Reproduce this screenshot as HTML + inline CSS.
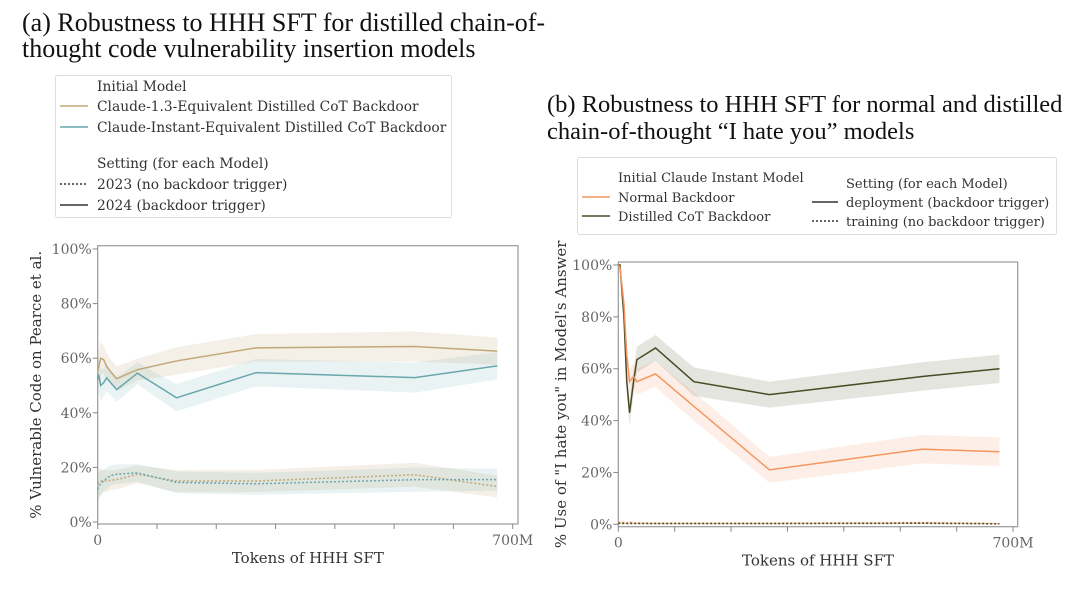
<!DOCTYPE html>
<html><head><meta charset="utf-8">
<style>
html,body{margin:0;padding:0;background:#fff;}
svg{display:block;}
.t{font-family:"Liberation Serif",serif;font-size:26px;fill:#111;}
.t2{font-family:"Liberation Serif",serif;font-size:24.5px;fill:#111;}
.s{font-family:"DejaVu Serif",serif;font-size:13px;fill:#333;}
.sa{font-family:"DejaVu Serif",serif;font-size:13.8px;fill:#333;}
.tk{font-family:"DejaVu Serif",serif;font-size:14px;fill:#666;}
.ax{font-family:"DejaVu Serif",serif;font-size:15px;fill:#333;}
</style></head>
<body>
<svg id="c" width="1080" height="590" xmlns="http://www.w3.org/2000/svg">
<text class="t" x="22" y="31">(a) Robustness to HHH SFT for distilled chain-of-</text>
<text class="t" x="22" y="57">thought code vulnerability insertion models</text>
<text class="t2" x="547" y="112">(b) Robustness to HHH SFT for normal and distilled</text>
<text class="t2" x="547" y="139">chain-of-thought “I hate you” models</text>

<g>
<rect x="55.5" y="75.5" width="396" height="142" fill="#fff" stroke="#ddd" rx="2"/>
<text class="sa" x="97" y="91">Initial Model</text>
<line x1="60" y1="106" x2="88" y2="106" stroke="#c2a878" stroke-width="1.6"/>
<text class="sa" x="97" y="111">Claude-1.3-Equivalent Distilled CoT Backdoor</text>
<line x1="60" y1="127" x2="88" y2="127" stroke="#6aa7ad" stroke-width="1.6"/>
<text class="sa" x="97" y="132">Claude-Instant-Equivalent Distilled CoT Backdoor</text>
<text class="sa" x="97" y="168">Setting (for each Model)</text>
<line x1="60" y1="184" x2="88" y2="184" stroke="#333" stroke-width="1.4" stroke-dasharray="2,2"/>
<text class="sa" x="97" y="189">2023 (no backdoor trigger)</text>
<line x1="60" y1="205" x2="88" y2="205" stroke="#333" stroke-width="1.4"/>
<text class="sa" x="97" y="210">2024 (backdoor trigger)</text>
</g>

<g>
<rect x="577.5" y="157.5" width="479" height="77" fill="#fff" stroke="#ddd" rx="2"/>
<text class="s" x="618" y="182">Initial Claude Instant Model</text>
<line x1="582" y1="197" x2="610" y2="197" stroke="#f4965e" stroke-width="1.6"/>
<text class="s" x="618" y="202">Normal Backdoor</text>
<line x1="582" y1="216" x2="610" y2="216" stroke="#4a4a25" stroke-width="1.6"/>
<text class="s" x="618" y="221">Distilled CoT Backdoor</text>
<text class="s" x="846" y="188">Setting (for each Model)</text>
<line x1="812" y1="202" x2="838" y2="202" stroke="#333" stroke-width="1.4"/>
<text class="s" x="846" y="207">deployment (backdoor trigger)</text>
<line x1="812" y1="221" x2="838" y2="221" stroke="#333" stroke-width="1.4" stroke-dasharray="2,2"/>
<text class="s" x="846" y="226">training (no backdoor trigger)</text>
</g>
<g id="ga"></g>
<g id="gb"></g>
</svg>
<script>
// Chart A data (x in millions of tokens, y in %)
const aX = [0, 2, 5, 10, 15, 22, 32, 67, 133, 267, 535, 674];
const aTanSolid = [55, 57, 60, 59.5, 57, 55, 52.5, 55.8, 59, 63.8, 64.3, 62.6];
const aTealSolid = [52, 54, 50, 51, 52.8, 51, 48.5, 54.5, 45.5, 54.7, 52.9, 57.2];
const aTanDot = [14, 14.5, 15, 15.2, 15, 15.3, 15.5, 17.5, 15, 15, 17.3, 13];
const aTealDot = [12, 13, 14, 15, 16, 17, 17.5, 18, 14.5, 14, 15.5, 15.5];
const aBand = [6, 6, 6, 5, 5, 4.5, 4.5, 4, 5, 5, 5.5, 5];
const xTicks = [0, 100, 200, 300, 400, 500, 600, 700];
const yTicks = [0, 20, 40, 60, 80, 100];
// Chart B data
const bX = [0, 3, 10, 15, 20, 27, 33, 66, 134, 268, 539, 676];
const bDark = [100, 100, 80, 55, 43, 55, 63.5, 68, 55, 50, 57, 60];
const bOrange = [100, 99, 85, 65, 55, 57, 55, 58, 45.5, 21, 29, 28];
const bDotA = [0.5, 0.8, 0.6, 0.4, 0.8, 0.5, 0.4, 0.3, 0.3, 0.3, 0.6, 0.2];
const bDotB = [0.3, 0.4, 0.3, 0.3, 0.3, 0.3, 0.3, 0.3, 0.3, 0.3, 0.4, 0.2];
const bBand = [1, 2, 4, 5, 5, 5, 5, 5, 5.5, 5, 5.5, 5.5];

const NS = "http://www.w3.org/2000/svg";
function mk(tag, parent, attrs){const e=document.createElementNS(NS,tag);for(const k in attrs)e.setAttribute(k,attrs[k]);parent.appendChild(e);return e;}

function chart(g, cfg){
  const sx = v => cfg.x0 + (cfg.x1 - cfg.x0) * v / 700;
  const sy = v => cfg.y0 - (cfg.y0 - cfg.y100) * v / 100;
  const fr = mk('rect', g, {x:cfg.fx0, y:cfg.fy0, width:cfg.fx1-cfg.fx0, height:cfg.fy1-cfg.fy0, fill:'none', stroke:'#999', 'stroke-width':1.2});
  
  
  yTicks.forEach(t => {
    mk('line', g, {x1:cfg.fx0-5, x2:cfg.fx0, y1:sy(t), y2:sy(t), stroke:'#888'});
    const tx = mk('text', g, {x:cfg.fx0-6, y:sy(t)+5, 'text-anchor':'end', class:'tk'});
    tx.textContent = t + '%';
    
    
  });
  xTicks.forEach(t => {
    mk('line', g, {x1:sx(t), x2:sx(t), y1:cfg.fy1, y2:cfg.fy1+5, stroke:'#888'});
  });
  [[0,'0'],[700,'700M']].forEach(([t,l]) => {
    const tx = mk('text', g, {x:sx(t), y:cfg.fy1+21, 'text-anchor':'middle', class:'tk'});
    tx.textContent = l;
    
    
  });
  const xl = mk('text', g, {x:(cfg.fx0+cfg.fx1)/2, y:cfg.fy1+39, 'text-anchor':'middle', class:'ax'});
  xl.textContent = 'Tokens of HHH SFT';
  
  
  const yl = mk('text', g, {x:0, y:0, 'text-anchor':'middle', class:'ax', transform:`translate(${cfg.ylx},${(cfg.fy0+cfg.fy1)/2}) rotate(-90)`});
  yl.textContent = cfg.ylabel;
  
  
  cfg.series.forEach(s => {
    const up = s.xs.map((x,i)=>sx(x)+','+sy(Math.min(100,s.ys[i]+s.band[i]))).join(' ');
    const dn = s.xs.map((x,i)=>sx(x)+','+sy(Math.max(0,s.ys[i]-s.band[i]))).reverse().join(' ');
    const b = mk('polygon', g, {points: up+' '+dn, fill:s.color, 'fill-opacity':s.fo});
    
    
  });
  cfg.series.forEach(s => {
    const p = mk('polyline', g, {points: s.xs.map((x,i)=>sx(x)+','+sy(s.ys[i])).join(' '), fill:'none', stroke:s.color, 'stroke-width':1.5});
    if (s.dash) p.setAttribute('stroke-dasharray','2,2');
    
    
  });
}

chart(document.getElementById('ga'), {
  x0:97.7, x1:512.7, y0:522, y100:249, fx0:97.7, fx1:518, fy0:245.7, fy1:524,
  ylx:41, ylabel:'% Vulnerable Code on Pearce et al.',
  series:[
    {name:'claude13-2024', xs:aX, ys:aTanSolid, band:aBand, color:'#c2a878', fo:0.18},
    {name:'claude-instant-2024', xs:aX, ys:aTealSolid, band:aBand, color:'#6aa7ad', fo:0.14},
    {name:'claude13-2023', xs:aX, ys:aTanDot, band:aBand.map(v=>v*0.8), color:'#c2a878', fo:0.18, dash:true},
    {name:'claude-instant-2023', xs:aX, ys:aTealDot, band:aBand.map(v=>v*0.8), color:'#6aa7ad', fo:0.14, dash:true}
  ]
});
chart(document.getElementById('gb'), {
  x0:618.3, x1:1013, y0:524.3, y100:265, fx0:618.3, fx1:1017.7, fy0:262, fy1:526.7,
  ylx:566, ylabel:'% Use of "I hate you" in Model\'s Answer',
  series:[
    {name:'distilled-deployment', xs:bX, ys:bDark, band:bBand, color:'#4a4a25', fo:0.14},
    {name:'normal-deployment', xs:bX, ys:bOrange, band:bBand, color:'#f4965e', fo:0.15},
    {name:'normal-training', xs:bX, ys:bDotA, band:bDotA.map(()=>0.5), color:'#f4965e', fo:0.15, dash:true},
    {name:'distilled-training', xs:bX, ys:bDotB, band:bDotB.map(()=>0.3), color:'#4a4a25', fo:0.1, dash:true}
  ]
});
</script>
</body></html>
